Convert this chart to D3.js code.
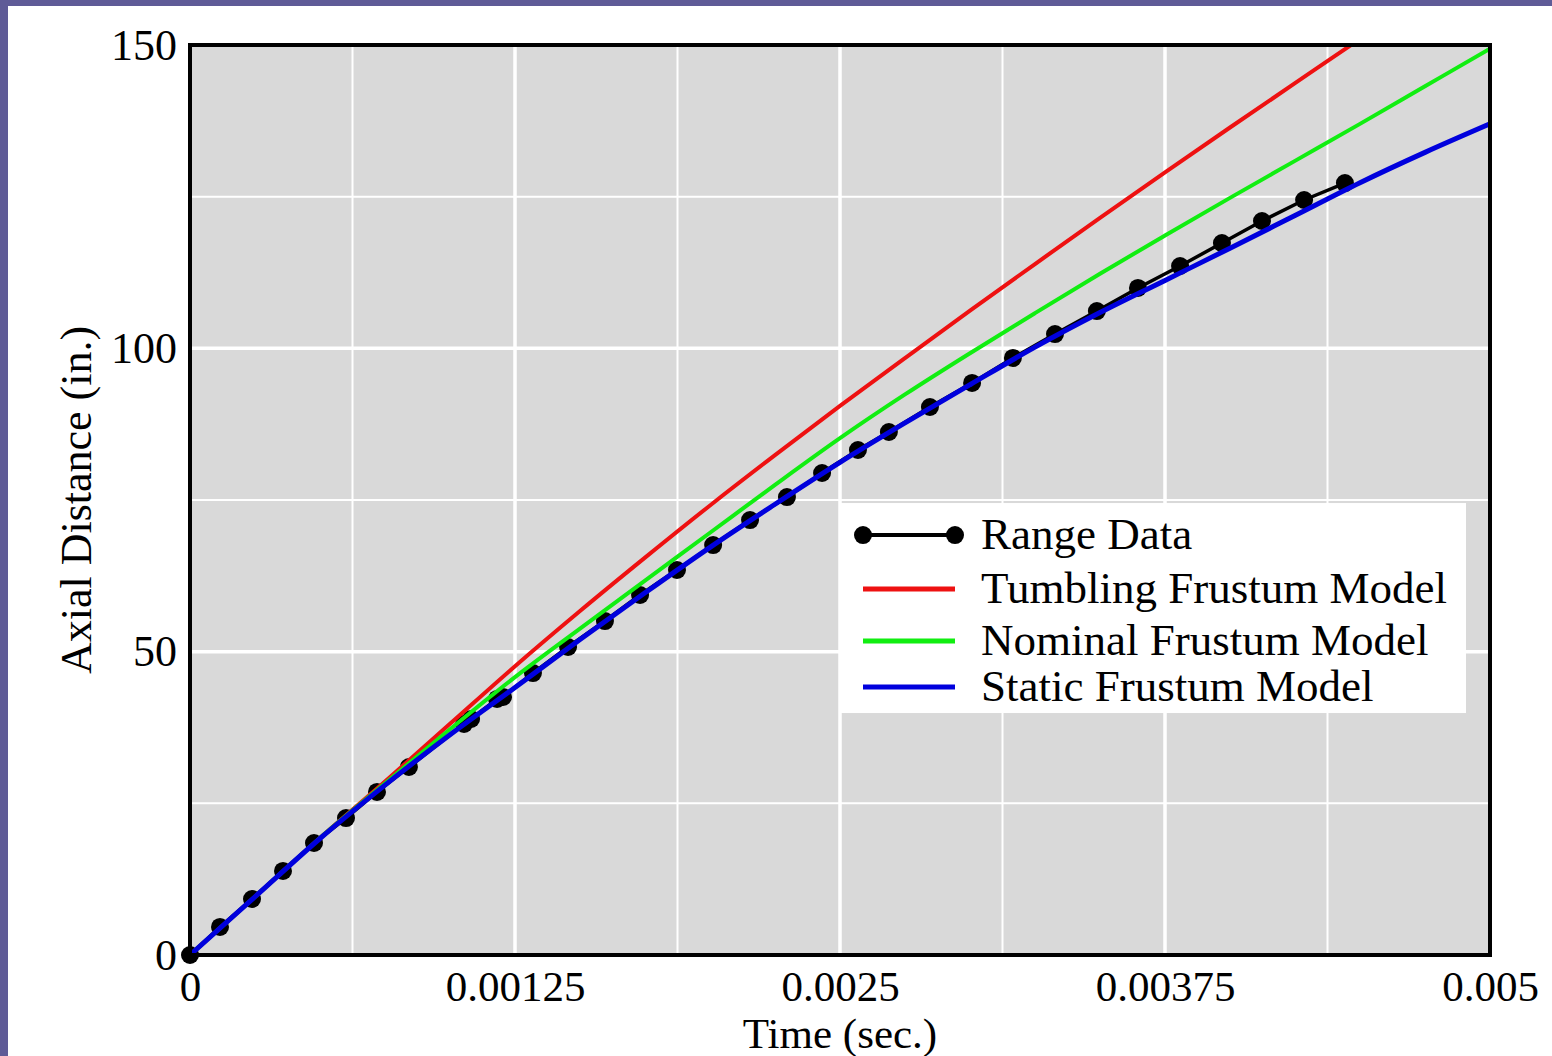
<!DOCTYPE html>
<html>
<head>
<meta charset="utf-8">
<script src="https://cdn.jsdelivr.net/npm/d3@7"></script>
<style>
    html, body { margin: 0; padding: 0; background: #ffffff; }
    svg { display: block; }
</style>
</head>
<body>
<script>
// range data (time in sec, axial distance in inches)
const rangeTime = [0, 0.0001154, 0.0002385, 0.0003577, 0.0004769, 0.0006, 0.0007192, 0.000842,
    0.001054, 0.001081, 0.001181, 0.001204, 0.001319, 0.001454, 0.001596, 0.001731, 0.001873,
    0.002012, 0.002154, 0.002296, 0.002431, 0.002569, 0.002688, 0.002846, 0.003008, 0.003165,
    0.003327, 0.003488, 0.003646, 0.003808, 0.003969, 0.004123, 0.004285, 0.004442];
const rangeDist = [0, 4.62, 9.23, 13.85, 18.46, 22.58, 26.87, 30.99,
    38.08, 38.9, 42.2, 42.53, 46.48, 50.77, 55.05, 59.34, 63.46,
    67.58, 71.7, 75.49, 79.45, 83.24, 86.21, 90.33, 94.29, 98.41,
    102.36, 106.15, 109.95, 113.57, 117.36, 120.99, 124.45, 127.25];

// model curves sampled every 0.00025 sec
const modelTime = [0, 0.00025, 0.0005, 0.00075, 0.001, 0.00125, 0.0015, 0.00175, 0.002, 0.00225,
    0.0025, 0.00275, 0.003, 0.00325, 0.0035, 0.00375, 0.004, 0.00425, 0.0045, 0.00475, 0.005];
const tumbling = [0, 9.6, 19.3, 28.6, 38.1, 47.6, 56.7, 65.5, 74.1, 82.4,
    90.5, 98.4, 106.2, 113.9, 121.5, 129.0, 136.4, 143.7, 151.0, 158.2, 165.3];
const nominal = [0, 9.6, 19.3, 28.3, 37.2, 45.8, 53.8, 61.7, 69.6, 77.5,
    85.2, 92.4, 99.2, 105.8, 112.3, 118.6, 124.8, 130.9, 137.0, 143.2, 149.4];
const staticModel = [0, 9.6, 19.2, 28.0, 36.3, 44.1, 52.0, 59.7, 67.2, 74.3,
    81.2, 87.7, 94.0, 100.2, 105.9, 111.2, 116.5, 121.9, 127.3, 132.3, 137.0];

const xTicks = [0, 0.00125, 0.0025, 0.00375, 0.005];
const xTickLabels = ['0', '0.00125', '0.0025', '0.00375', '0.005'];
const yTicks = [0, 50, 100, 150];
const yTickLabels = ['0', '50', '100', '150'];
const xGridMinor = [0.000625, 0.001875, 0.003125, 0.004375];
const yGridMinor = [25, 75, 125];

const legendNames = ['Range Data', 'Tumbling Frustum Model', 'Nominal Frustum Model', 'Static Frustum Model'];
const legendColors = ['#000000', '#ee1111', '#11ee11', '#0000dd'];

const svgWidth = 1552;
const svgHeight = 1056;
const margin = { top: 45, bottom: 101, left: 190, right: 62 };
const width = svgWidth - margin.left - margin.right;
const height = svgHeight - margin.top - margin.bottom;
const font = '"Liberation Serif", "Times New Roman", serif';

const root = d3.select('body')
    .append('svg')
    .attr('width', svgWidth)
    .attr('height', svgHeight);

// purple page edge
root.append('rect').attr('x', 0).attr('y', 0).attr('width', svgWidth).attr('height', 6).attr('fill', '#5f5b97');
root.append('rect').attr('x', 0).attr('y', 0).attr('width', 8).attr('height', svgHeight).attr('fill', '#5f5b97');

const svg = root.append('g')
    .attr('transform', `translate(${margin.left}, ${margin.top})`);

const x = d3.scaleLinear().domain([0, 0.005]).range([0, width]);
const y = d3.scaleLinear().domain([0, 150]).range([height, 0]);

svg.append('rect')
    .attr('width', width)
    .attr('height', height)
    .attr('fill', '#d9d9d9');

// grid
svg.append('g').selectAll('line')
    .data(xGridMinor)
    .enter().append('line')
    .attr('x1', d => x(d)).attr('x2', d => x(d))
    .attr('y1', 0).attr('y2', height)
    .attr('stroke', '#ffffff').attr('stroke-width', 2);

svg.append('g').selectAll('line')
    .data(xTicks.slice(1, -1))
    .enter().append('line')
    .attr('x1', d => x(d)).attr('x2', d => x(d))
    .attr('y1', 0).attr('y2', height)
    .attr('stroke', '#ffffff').attr('stroke-width', 3.5);

svg.append('g').selectAll('line')
    .data(yGridMinor)
    .enter().append('line')
    .attr('x1', 0).attr('x2', width)
    .attr('y1', d => y(d)).attr('y2', d => y(d))
    .attr('stroke', '#ffffff').attr('stroke-width', 2);

svg.append('g').selectAll('line')
    .data(yTicks.slice(1, -1))
    .enter().append('line')
    .attr('x1', 0).attr('x2', width)
    .attr('y1', d => y(d)).attr('y2', d => y(d))
    .attr('stroke', '#ffffff').attr('stroke-width', 3.5);

svg.append('clipPath')
    .attr('id', 'plot-clip')
    .append('rect')
    .attr('x', -10)
    .attr('width', width + 10)
    .attr('height', height + 10);

const plot = svg.append('g').attr('clip-path', 'url(#plot-clip)');

const rangeData = rangeTime.map((t, i) => [t, rangeDist[i]]);

const line = d3.line()
    .x(d => x(d[0]))
    .y(d => y(d[1]))
    .curve(d3.curveMonotoneX);

plot.append('path')
    .datum(rangeData)
    .attr('fill', 'none')
    .attr('stroke', '#000000')
    .attr('stroke-width', 3.5)
    .attr('d', d3.line().x(d => x(d[0])).y(d => y(d[1])));

plot.selectAll('.dot')
    .data(rangeData)
    .enter()
    .append('circle')
    .attr('class', 'dot')
    .attr('cx', d => x(d[0]))
    .attr('cy', d => y(d[1]))
    .attr('r', 9)
    .attr('fill', '#000000');

const models = [tumbling, nominal, staticModel];
const modelClip = svg.append('g').attr('clip-path', 'url(#model-clip)');
svg.append('clipPath')
    .attr('id', 'model-clip')
    .append('rect')
    .attr('width', width)
    .attr('height', height);

models.forEach((series, i) => {
    modelClip.append('path')
        .datum(modelTime.map((t, j) => [t, series[j]]))
        .attr('fill', 'none')
        .attr('stroke', legendColors[i + 1])
        .attr('stroke-width', i === 2 ? 5 : 4)
        .attr('d', line);
});

// frame
svg.append('rect')
    .attr('width', width)
    .attr('height', height)
    .attr('fill', 'none')
    .attr('stroke', '#000000')
    .attr('stroke-width', 4);

// axes
const xAxis = svg.append('g')
    .attr('transform', `translate(0,${height})`)
    .call(d3.axisBottom(x).tickValues(xTicks).tickSize(0).tickPadding(15)
        .tickFormat((d, i) => xTickLabels[i]));
xAxis.select('.domain').remove();
xAxis.selectAll('text')
    .style('font-family', font)
    .style('font-size', '43px')
    .style('fill', '#000000');

const yAxis = svg.append('g')
    .call(d3.axisLeft(y).tickValues(yTicks).tickSize(0).tickPadding(13)
        .tickFormat((d, i) => yTickLabels[i]));
yAxis.select('.domain').remove();
yAxis.selectAll('text')
    .style('font-family', font)
    .style('font-size', '44px')
    .style('fill', '#000000');

// axis titles
svg.append('text')
    .attr('x', x(0.0025))
    .attr('y', height + 93)
    .attr('text-anchor', 'middle')
    .style('font-family', font)
    .style('font-size', '43px')
    .text('Time (sec.)');

svg.append('text')
    .attr('transform', `translate(-99, ${y(75)}) rotate(-90)`)
    .attr('text-anchor', 'middle')
    .style('font-family', font)
    .style('font-size', '44px')
    .text('Axial Distance (in.)');

// legend
const legend = svg.append('g')
    .attr('transform', `translate(${x(0.0025)}, ${y(74.5)})`);

legend.append('rect')
    .attr('width', 626)
    .attr('height', 210)
    .attr('fill', '#ffffff');

const rowY = [32, 86, 138, 184];
legendNames.forEach((name, i) => {
    const row = legend.append('g').attr('transform', `translate(0, ${rowY[i]})`);
    row.append('line')
        .attr('x1', 23).attr('x2', 115)
        .attr('stroke', legendColors[i])
        .attr('stroke-width', i === 0 ? 4 : 5);
    if (i === 0) {
        row.selectAll('circle')
            .data([23, 115])
            .enter().append('circle')
            .attr('cx', d => d)
            .attr('r', 9)
            .attr('fill', '#000000');
    }
    row.append('text')
        .attr('x', 141)
        .attr('y', 14)
        .style('font-family', font)
        .style('font-size', '45px')
        .text(name);
});
</script>
</body>
</html>
